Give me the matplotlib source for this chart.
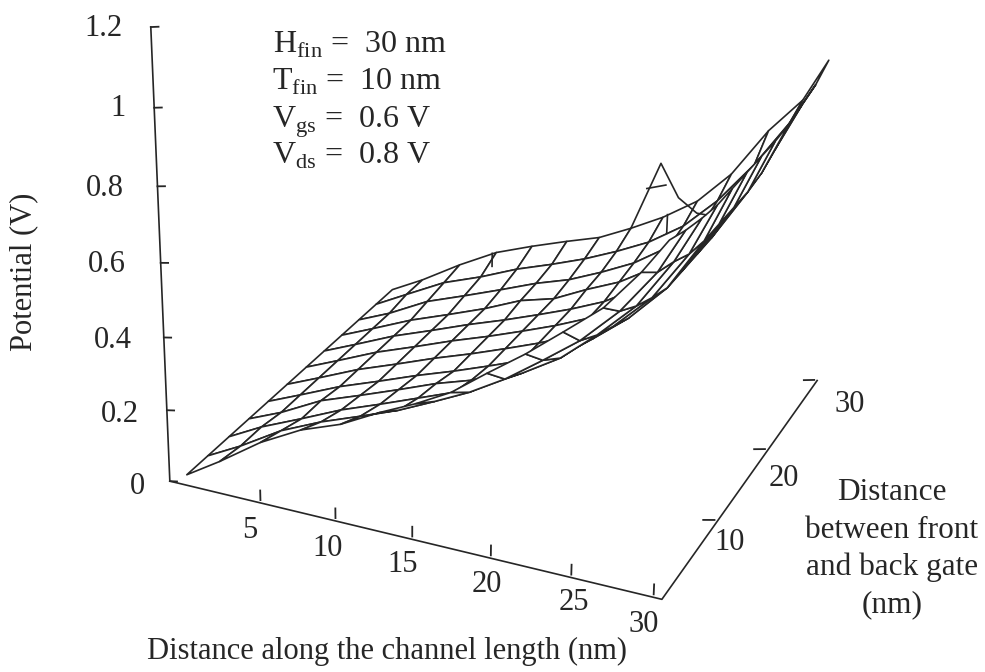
import numpy as np
import matplotlib
matplotlib.use("Agg")
import matplotlib.pyplot as plt

W, H = 985, 672
INK = '#262626'
plt.rcParams['font.family'] = ['Liberation Serif', 'DejaVu Serif']
plt.rcParams['mathtext.fontset'] = 'custom'
plt.rcParams['mathtext.rm'] = 'Liberation Serif'

x_grid = [0, 2.3, 5.1, 7.8, 10.4, 12.9, 15.2, 17.4, 19.6, 21.9, 24.1, 26.4, 28.5, 30]
y_grid = [0, 2.7, 5.5, 8.2, 10.9, 13.6, 16.4, 19.1, 21.8, 24.5, 27.3, 30]
# potential per row of y_grid, one value per x_grid point
potential = [
    [.03, .09, .17, .23, .27, .325, .37, .42, .49, .56, .635, .715, .82, .91],
    [.03, .08, .15, .20, .24, .28, .325, .37, .425, .495, .565, .66, .775, .89],
    [.03, .08, .13, .18, .22, .26, .297, .34, .39, .45, .53, .625, .755, .875],
    [.03, .07, .13, .17, .21, .25, .28, .32, .365, .43, .505, .60, .73, .865],
    [.03, .07, .12, .16, .20, .235, .27, .305, .345, .405, .48, .58, .72, .865],
    [.03, .07, .12, .16, .20, .235, .27, .305, .345, .405, .48, .58, .72, .865],
    [.03, .07, .12, .16, .20, .235, .27, .305, .345, .405, .48, .58, .72, .865],
    [.03, .07, .12, .16, .20, .235, .27, .305, .345, .405, .48, .58, .72, .865],
    [.03, .07, .12, .16, .20, .245, .27, .315, .355, .415, .49, .59, .73, .87],
    [.03, .07, .13, .17, .21, .25, .28, .32, .365, .43, .515, .615, .755, .885],
    [.03, .08, .14, .18, .225, .26, .295, .335, .38, .445, .535, .655, .785, .90],
    [.03, .08, .15, .21, .25, .285, .315, .36, .41, .475, .57, .71, .81, .93],
]
# the stray flap on the far edge and two stray strokes, all at y = 30
flap_x = [17.4, 19.3, 20.6, 21.9, 22.5]
flap_z = [.36, .565, .475, .44, .44]
flap_cross_x = [18.4, 19.7]
flap_cross_z = [.485, .505]
stray_a_x = [7.5, 7.5]
stray_a_z = [.205, .165]
stray_b_x = [19.9, 19.9]
stray_b_z = [.42, .365]

x_ticks = [5, 10, 15, 20, 25, 30]
y_ticks = [10, 20, 30.8]
z_ticks = [0, .2, .4, .6, .8, 1.0, 1.2]
X0, X1 = -1.2, 30.5

fig = plt.figure(figsize=(W / 100, H / 100), dpi=100)
ax = fig.add_axes([0.0844, 0.0407, 0.8395, 1.2305], projection='3d')
ax.set_xlim(X0, X1)
ax.set_ylim(0, 30)
ax.set_zlim(0, 1.2)
ax.view_init(elev=23.99, azim=-67.055, roll=-0.977)
ax.set_proj_type('persp', focal_length=0.589)
ax.set_box_aspect((440.369, 397.103, 404.517))
ax.set_axis_off()
ax.computed_zorder = False

XX, YY = np.meshgrid(x_grid, y_grid)
ax.plot_surface(XX, YY, np.array(potential), rstride=1, cstride=1, color='white', edgecolor=INK,
                linewidth=1.2, shade=False, zorder=1)
for sx, sz in [(flap_x, flap_z), (flap_cross_x, flap_cross_z), (stray_a_x, stray_a_z), (stray_b_x, stray_b_z)]:
    ax.plot(sx, [30] * len(sx), sz, color=INK, lw=1.2, zorder=2)

# axis box lines and ticks
ax.plot([X0, X1, X1], [0, 0, y_ticks[-1]], [0, 0, 0], color=INK, lw=1.2, zorder=3)
ax.plot([X0, X0], [0, 0], [0, 1.2], color=INK, lw=1.2, zorder=3)
for t in x_ticks:
    ax.plot([t, t], [0, 0], [.008, .035], color=INK, lw=1.3, zorder=3)
for t in y_ticks:
    ax.plot([X1 - .2, X1 - .9], [t, t], [0, -.007], color=INK, lw=1.3, zorder=3)
for t in z_ticks:
    ax.plot([X0, X0 + .5], [0, 0], [t, t + .004], color=INK, lw=1.3, zorder=3)


def label(px, py, s, **kw):
    kw.setdefault('ha', 'center')
    kw.setdefault('va', 'center')
    kw.setdefault('fontsize', 22)
    fig.text(px / W, 1 - py / H, s, color=INK, **kw)


for s, px, py in [('1.2', 103, 29), ('1', 118, 109), ('0.8', 105, 188), ('0.6', 107, 265),
                  ('0.4', 113, 341), ('0.2', 120, 415), ('0', 137, 487)]:
    label(px, py, s)
for s, px, py in [('5', 250, 530), ('10', 328, 548), ('15', 403, 564), ('20', 487, 584),
                  ('25', 574, 603), ('30', 644, 624)]:
    label(px, py, s)
for s, px, py in [('10', 730, 542), ('20', 784, 479), ('30', 850, 405)]:
    label(px, py, s)
label(387, 651, 'Distance along the channel length (nm)')
label(24, 272, 'Potential (V)', rotation=90)
for s, py in [('Distance', 492), ('between front', 530), ('and back gate', 567), ('(nm)', 605)]:
    label(892, py, s, fontsize=22.5)
for s, px, py in [(r'H$_{\mathrm{fin}}$ =  30 nm', 273, 53), (r'T$_{\mathrm{fin}}$ =  10 nm', 272, 90),
                  (r'V$_{\mathrm{gs}}$ =  0.6 V', 272, 128), (r'V$_{\mathrm{ds}}$ =  0.8 V', 272, 164)]:
    label(px, py, s, ha='left', va='baseline', fontsize=23)

fig.savefig("out.png", dpi=100)
